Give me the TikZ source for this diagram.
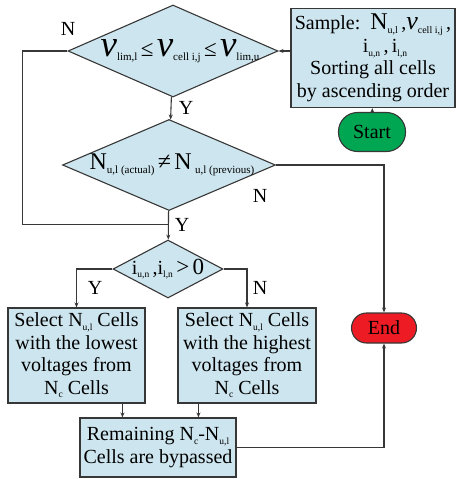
\documentclass[tikz,border=0pt]{standalone}
\usepackage{fontspec}
\setmainfont{Liberation Serif}
\usetikzlibrary{shapes.geometric, arrows.meta, positioning, calc}
\definecolor{cBox}{RGB}{205,229,238}
\definecolor{cStart}{RGB}{0,166,81}
\definecolor{cEnd}{RGB}{237,28,36}
\definecolor{cLine}{RGB}{55,55,55}
\newcommand{\lo}[2][9.5]{\raisebox{-0.4ex}{\fontsize{#1}{#1}\selectfont #2}}
\newcommand{\bigsym}[2]{{\fontsize{#1}{#1}\selectfont #2}}
\tikzset{
	process/.style ={rectangle, draw=cLine, line width=1.1pt, fill=cBox, align=center, inner sep=0pt},
	decision/.style={diamond, draw=cLine, line width=1.1pt, fill=cBox, inner sep=0pt},
	terminal/.style={rectangle, draw=cLine, line width=1.1pt, align=center, inner sep=0pt},
	flowarrow/.style={-{Stealth[length=5pt, width=4pt]}, draw=cLine, line width=1.1pt},
	flowline/.style={draw=cLine, line width=1.1pt},
	lbl/.style={inner sep=0pt},
}
\begin{document}
\begin{tikzpicture}[x=1pt, y=-1pt, font=\fontsize{20}{22.5}\selectfont]
	\useasboundingbox (0,0) rectangle (458,479);
	% checks
	\node[decision, minimum width=210pt, minimum height=92pt] (lim) at (173,51)
		{\makebox[0pt]{\hspace*{14pt}\bigsym{37}{\itshape v}\lo[11]{lim,l}\,\bigsym{23}{≤}\,\bigsym{37}{\itshape v}\lo[11]{cell i,j}\,\bigsym{23}{≤}\,\bigsym{37}{\itshape v}\lo[11]{lim,u}}};
	\node[decision, minimum width=213pt, minimum height=91pt] (chg) at (169,165)
		{\makebox[0pt]{\raisebox{-4pt}{\hspace*{6pt}\bigsym{24}{N}\lo[11]{u,l (actual)}\,\bigsym{24}{≠}\,\bigsym{24}{N}\,\lo[11]{u,l (previous)}}}};
	\node[decision, minimum width=110pt, minimum height=58pt] (cur) at (168,269)
		{\makebox[0pt]{i\lo{u,n}\,,i\lo{l,n}\,\bigsym{23}{>}\,\bigsym{23}{0}}};
	% sample and terminals
	\node[process, minimum width=164pt, minimum height=99pt] (smp) at (373,58)
		{Sample:\ \ \bigsym{24}{N}\lo[10]{u,l}\,,\bigsym{26}{\itshape v}\lo[10]{cell i,j}\,,\\
		\hspace*{24pt}i\lo{u,n}\,,\,i\lo{l,n}\\Sorting all cells\\by ascending order};
	\node[terminal, fill=cStart, rounded corners=19pt, minimum width=67pt, minimum height=39pt] (start) at (372,132) {Start};
	\node[terminal, fill=cEnd, rounded corners=15pt, minimum width=65pt, minimum height=30pt] (stop) at (384,328) {End};
	% selection boxes
	\node[process, minimum width=137pt, minimum height=95pt] (low) at (76.5,355.5)
		{Select N\lo{u,l} Cells\\with the lowest\\voltages from\\N\lo{c} Cells};
	\node[process, minimum width=138pt, minimum height=95pt] (high) at (247,355.5)
		{Select N\lo{u,l} Cells\\with the highest\\voltages from\\N\lo{c} Cells};
	\node[process, minimum width=156pt, minimum height=59pt] (byp) at (158,447.5)
		{Remaining N\lo{c}-N\lo{u,l}\\Cells are bypassed};
	% connectors
	\coordinate (join) at ($(chg.south)+(0,13)$);
	\draw[flowarrow] (start) -- (smp);
	\draw[flowarrow] (smp.west |- lim.east) -- (lim.east);
	\draw[flowarrow] (lim) -- (chg);
	\draw[flowline] (lim.west) -- ++(-45,0) |- (join);
	\draw[flowarrow] (chg) -- (cur);
	\draw[flowarrow] (chg.east) -| (stop.north);
	\draw[flowarrow] (cur.west) -| (low.north);
	\draw[flowarrow] (cur.east) -| (high.north);
	\draw[flowarrow] ([xshift=43pt]byp.north west |- low.south) -- ([xshift=43pt]byp.north west);
	\draw[flowarrow] ([xshift=21pt]high.south west) -- ([xshift=21pt]high.south west |- byp.north);
	\draw[flowarrow] (byp.east) -| (stop.south);
	% labels
	\node[lbl] (n1) at (68,29) {N};
	\node[lbl] (y1) at (186,108) {Y};
	\node[lbl] (n2) at (260,196) {N};
	\node[lbl] (y2) at (182,225) {Y};
	\node[lbl] (y3) at (95,288) {Y};
	\node[lbl] (n3) at (260,288) {N};
\end{tikzpicture}
\end{document}
